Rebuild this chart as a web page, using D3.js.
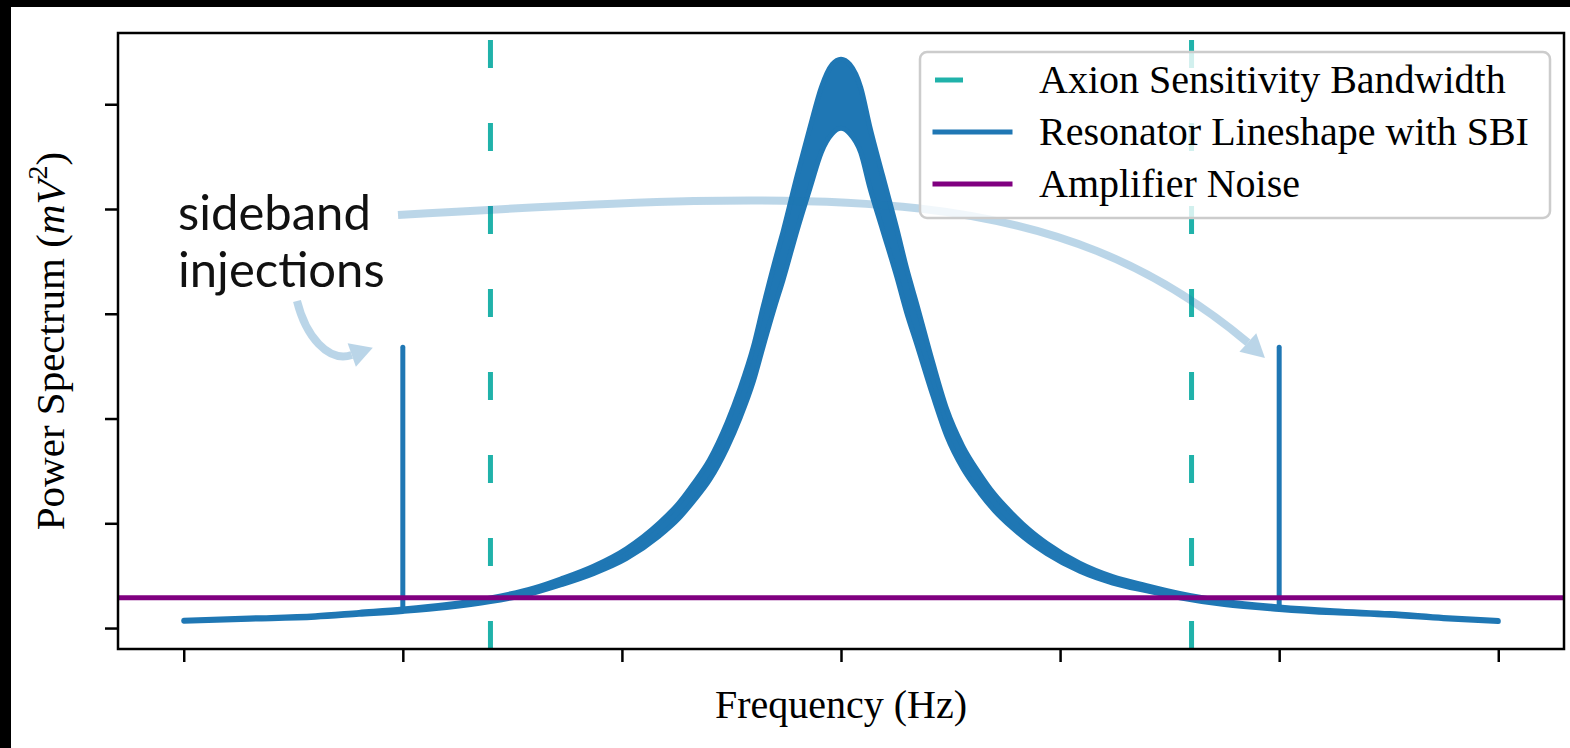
<!DOCTYPE html>
<html>
<head>
<meta charset="utf-8">
<script src="https://cdn.jsdelivr.net/npm/d3@7"></script>
<style>
  body { margin: 0; background: #fff; }
  svg { display: block; }
</style>
</head>
<body>
<div id="chart"></div>
<script>
// resonator lineshape (arbitrary units)
var freqs = [-3.0, -2.7, -2.4, -2.2, -2.0, -1.8, -1.6, -1.4, -1.28, -1.13, -0.98, -0.83, -0.74, -0.675, -0.6, -0.52, -0.46, -0.40, -0.355, -0.30, -0.265, -0.20, -0.14, -0.09, -0.04, 0,
             0.04, 0.09, 0.131, 0.19, 0.255, 0.30, 0.346, 0.42, 0.483, 0.556, 0.634, 0.70, 0.784, 0.86, 0.939, 1.09, 1.24, 1.395, 1.546, 1.75, 2.0, 2.25, 2.505, 2.75, 3.0];
var power = [0.07, 0.09, 0.11, 0.14, 0.17, 0.21, 0.27, 0.36, 0.44, 0.555, 0.71, 0.94, 1.12, 1.29, 1.51, 1.84, 2.15, 2.52, 2.88, 3.3, 3.55, 4.06, 4.5, 4.85, 5.05, 5.1,
             5.05, 4.85, 4.5, 4.06, 3.58, 3.22, 2.9, 2.37, 1.96, 1.63, 1.38, 1.2, 1.02, 0.88, 0.76, 0.58, 0.46, 0.38, 0.31, 0.24, 0.19, 0.155, 0.13, 0.095, 0.067];
// half-height of the noisy band around the lineshape
var spread = [0.005, 0.006, 0.007, 0.009, 0.011, 0.014, 0.018, 0.023, 0.028, 0.035, 0.047, 0.062, 0.073, 0.083, 0.097, 0.12, 0.14, 0.165, 0.19, 0.215, 0.23, 0.26, 0.29, 0.31, 0.33, 0.33,
              0.33, 0.31, 0.29, 0.26, 0.23, 0.21, 0.19, 0.155, 0.127, 0.105, 0.09, 0.078, 0.067, 0.057, 0.049, 0.038, 0.03, 0.025, 0.02, 0.016, 0.012, 0.01, 0.008, 0.006, 0.005];

// sideband injections
var sbiFreqs = [-2.0, 2.0];
var sbiBase = [0.17, 0.19];
var sbiTop = [2.68, 2.68];

var axionBand = [-1.6, 1.6];
var ampNoise = 0.29;

var xTicks = [-3, -2, -1, 0, 1, 2, 3];
var yTicks = [0, 1, 2, 3, 4, 5];

var legendLabels = ["Axion Sensitivity Bandwidth", "Resonator Lineshape with SBI", "Amplifier Noise"];
var legendColors = ["#20b2aa", "#1f77b4", "#800080"];

// annotation arrows in data coords: start, two bezier handles, end of shaft, tip
var arrows = [
    [[-2.022, 3.942], [0.032, 4.20], [0.979, 4.257], [1.857, 2.725], [1.935, 2.577]],
    [[-2.483, 3.121], [-2.443, 2.787], [-2.342, 2.532], [-2.233, 2.606], [-2.137, 2.676]]
];
var noteLines = ["sideband", "injections"];
var notePos = [-3.026, 3.80];


var W = 1570, H = 748;
var plot = {left: 118, right: 1564, top: 33, bottom: 649};

var xScale = d3.scaleLinear()
    .domain([-3.3, 3.3])
    .range([plot.left, plot.right])
    ;
var yScale = d3.scaleLinear()
    .domain([-0.2, 5.68])
    .range([plot.bottom, plot.top])
    ;

var svg = d3.select("#chart").append("svg")
    .attr("width", W)
    .attr("height", H)
    ;
svg.append("rect").attr("width", W).attr("height", H).attr("fill", "#fff");
// black strips of the original export
svg.append("rect").attr("width", W).attr("height", 7).attr("fill", "#000");
svg.append("rect").attr("width", 11).attr("height", H).attr("fill", "#000");

var svg_g = svg.append("g").attr("class", "mainfigure");

var data = freqs.map((f, i) => ({f: f, p: power[i], s: spread[i]}));

//-lineshape band----------------------------------------------------------//
var band = d3.area()
    .x(d => xScale(d.f))
    .y0(d => yScale(d.p - d.s))
    .y1(d => yScale(d.p + d.s))
    .curve(d3.curveMonotoneX)
    ;
svg_g.append("path")
    .datum(data)
    .attr("d", band)
    .attr("fill", "#1f77b4")
    .attr("stroke", "#1f77b4")
    .attr("stroke-width", 5)
    .attr("stroke-linejoin", "round")
    ;

svg_g.selectAll("line.sbi").data(sbiFreqs).enter().append("line")
    .attr("class", "sbi")
    .attr("x1", d => xScale(d))
    .attr("x2", d => xScale(d))
    .attr("y1", (d, i) => yScale(sbiBase[i]))
    .attr("y2", (d, i) => yScale(sbiTop[i]))
    .attr("stroke", "#1f77b4")
    .attr("stroke-width", 5)
    .attr("stroke-linecap", "round")
    ;

svg_g.append("line")
    .attr("x1", plot.left).attr("x2", plot.right)
    .attr("y1", yScale(ampNoise)).attr("y2", yScale(ampNoise))
    .attr("stroke", "#800080")
    .attr("stroke-width", 5)
    ;

svg_g.selectAll("line.axion").data(axionBand).enter().append("line")
    .attr("class", "axion")
    .attr("x1", d => xScale(d)).attr("x2", d => xScale(d))
    .attr("y1", plot.bottom).attr("y2", plot.top)
    .attr("stroke", "#20b2aa")
    .attr("stroke-width", 5)
    .attr("stroke-dasharray", "28,55")
    ;

//-annotation--------------------------------------------------------------//
arrows.forEach(a => {
    var p = a.map(q => [xScale(q[0]), yScale(q[1])]);
    var g = svg_g.append("g").attr("opacity", 0.3);
    g.append("path")
        .attr("d", `M${p[0]}C${p[1]} ${p[2]} ${p[3]}`)
        .attr("fill", "none")
        .attr("stroke", "#1f77b4")
        .attr("stroke-width", 8)
        ;
    var dx = p[4][0] - p[3][0], dy = p[4][1] - p[3][1];
    var len = Math.hypot(dx, dy), hw = 12.5;
    var nx = -dy / len * hw, ny = dx / len * hw;
    g.append("path")
        .attr("d", `M${p[4]}L${p[3][0] + nx},${p[3][1] + ny}L${p[3][0] - nx},${p[3][1] - ny}Z`)
        .attr("fill", "#1f77b4")
        ;
});

svg_g.selectAll("text.note").data(noteLines).enter().append("text")
    .attr("class", "note")
    .attr("x", xScale(notePos[0]))
    .attr("y", (d, i) => yScale(notePos[1]) + i * 57)
    .attr("font-family", "Lato, 'Noto Sans', sans-serif")
    .attr("font-size", 49)
    .attr("fill", "#111")
    .text(d => d)
    ;

//-axes--------------------------------------------------------------------//
var xAxis = d3.axisBottom(xScale).tickValues(xTicks).tickFormat("").tickSize(13).tickSizeOuter(0);
var yAxis = d3.axisLeft(yScale).tickValues(yTicks).tickFormat("").tickSize(13).tickSizeOuter(0);

var svg_x_axis = svg.append("g")
    .attr("class", "axis x-axis")
    .attr("transform", `translate(0,${plot.bottom})`)
    .call(xAxis)
    ;
var svg_y_axis = svg.append("g")
    .attr("class", "axis y-axis")
    .attr("transform", `translate(${plot.left},0)`)
    .call(yAxis)
    ;
svg.selectAll(".axis .domain").remove();
svg.selectAll(".axis line").attr("stroke", "#000").attr("stroke-width", 2.5);

svg.append("rect")
    .attr("x", plot.left).attr("y", plot.top)
    .attr("width", plot.right - plot.left)
    .attr("height", plot.bottom - plot.top)
    .attr("fill", "none")
    .attr("stroke", "#000")
    .attr("stroke-width", 2.5)
    ;

var serif = "'Liberation Serif', 'Times New Roman', serif";
svg.append("text")
    .attr("x", (plot.left + plot.right) / 2)
    .attr("y", 718)
    .attr("text-anchor", "middle")
    .attr("font-family", serif)
    .attr("font-size", 40)
    .text("Frequency (Hz)")
    ;
var ylab = svg.append("text")
    .attr("transform", `translate(64,${(plot.top + plot.bottom) / 2}) rotate(-90)`)
    .attr("text-anchor", "middle")
    .attr("font-family", serif)
    .attr("font-size", 41)
    ;
ylab.append("tspan").text("Power Spectrum (");
ylab.append("tspan").attr("font-style", "italic").text("mV");
ylab.append("tspan").attr("font-size", 28).attr("dy", -17).text("2");
ylab.append("tspan").attr("dy", 17).text(")");

//-legend------------------------------------------------------------------//
var lg = svg.append("g").attr("transform", "translate(920,52)");
lg.append("rect")
    .attr("width", 630).attr("height", 166)
    .attr("rx", 7)
    .attr("fill", "#fff").attr("fill-opacity", 0.8)
    .attr("stroke", "#cccccc").attr("stroke-width", 2.5)
    ;
var rows = lg.selectAll("g.row").data(legendLabels).enter().append("g")
    .attr("class", "row")
    .attr("transform", (d, i) => `translate(0,${28 + i * 52})`)
    ;
rows.append("line")
    .attr("x1", 15).attr("x2", 90)
    .attr("stroke", (d, i) => legendColors[i])
    .attr("stroke-width", 5)
    .attr("stroke-linecap", (d, i) => i == 0 ? "butt" : "square")
    .attr("stroke-dasharray", (d, i) => i == 0 ? "28,55" : null)
    ;
rows.append("text")
    .attr("x", 119)
    .attr("y", 13)
    .attr("font-family", serif)
    .attr("font-size", 40)
    .text(d => d)
    ;
</script>
</body>
</html>
